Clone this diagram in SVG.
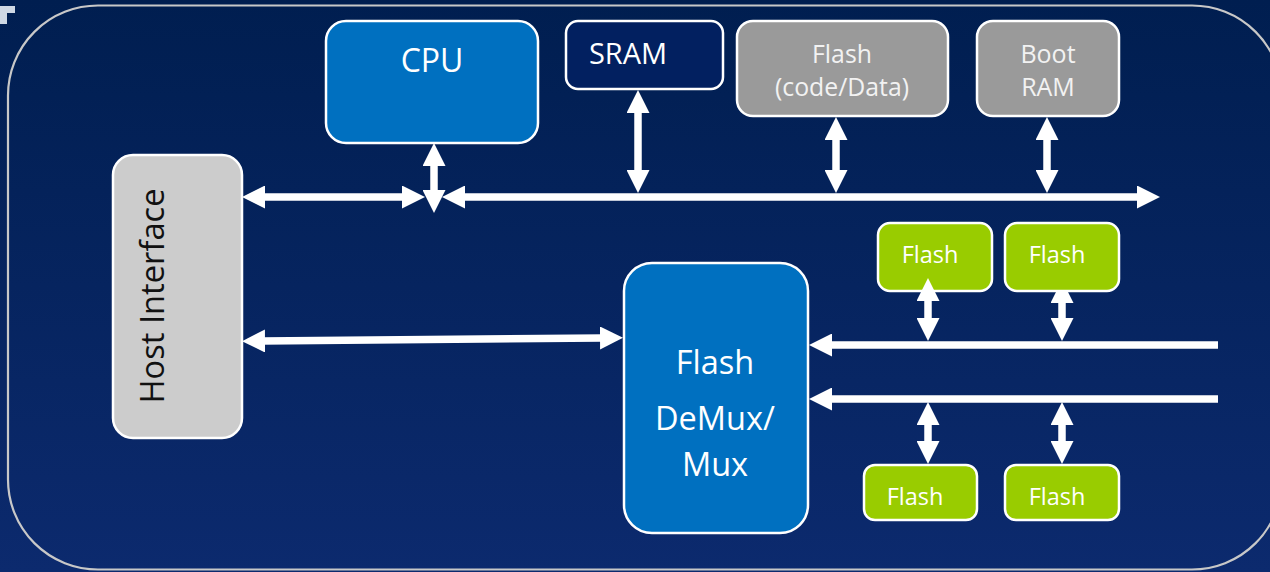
<svg xmlns="http://www.w3.org/2000/svg" width="1270" height="572" viewBox="0 0 1270 572">
  <defs>
    <linearGradient id="bg" x1="0" y1="0" x2="0" y2="1">
      <stop offset="0" stop-color="#001e50"/>
      <stop offset="1" stop-color="#0c2a6e"/>
    </linearGradient>
    <marker id="head" viewBox="0 0 23 23" markerUnits="userSpaceOnUse" markerWidth="23" markerHeight="23" refX="3" refY="11.5" orient="auto-start-reverse">
      <path d="M0,0 L23,11.5 L0,23 Z" fill="#ffffff"/>
    </marker>
    <clipPath id="below-flash-b">
      <rect x="1040" y="292" width="50" height="60"/>
    </clipPath>
    <style>
      .box { stroke: #ffffff; stroke-width: 2.5; }
      .blue { fill: #0070c0; }
      .navy { fill: #022060; }
      .gray { fill: #9a9a9a; }
      .light { fill: #cccccc; }
      .green { fill: #99cc00; }
      .t { font-family: "Open Sans", "Noto Sans", sans-serif; text-anchor: middle; fill: #ffffff; }
      .tg { fill: #f2f2f2; }
      .wire { stroke: #ffffff; stroke-width: 7.5; fill: none; }
    </style>
  </defs>

  <!-- backdrop -->
  <rect x="0" y="0" width="1270" height="572" fill="url(#bg)"/>
  <path d="M0,6 H15 V13 H7 V24 H0 Z" fill="#e6ecf4" opacity="0.9"/>
  <rect x="8" y="5.5" width="1274" height="564" rx="90" ry="90" fill="none" stroke="#c8c8c8" stroke-width="2.2"/>

  <!-- blocks -->
  <g id="cpu">
    <rect class="box blue" x="326" y="21" width="212" height="122" rx="20"/>
    <text class="t" x="432" y="72" font-size="32">CPU</text>
  </g>
  <g id="sram">
    <rect class="box navy" x="566" y="21" width="157" height="68" rx="12"/>
    <text class="t" x="628" y="64" font-size="29">SRAM</text>
  </g>
  <g id="flash-code">
    <rect class="box gray" x="737" y="21" width="211" height="95" rx="16"/>
    <text class="t tg" x="842" y="63" font-size="24.8">Flash</text>
    <text class="t tg" x="842" y="96" font-size="24.8">(code/Data)</text>
  </g>
  <g id="boot-ram">
    <rect class="box gray" x="977" y="21" width="142" height="95" rx="16"/>
    <text class="t tg" x="1048" y="63" font-size="25">Boot</text>
    <text class="t tg" x="1048" y="96" font-size="25">RAM</text>
  </g>
  <g id="host-interface">
    <rect class="box light" x="113" y="155" width="129" height="283" rx="20"/>
    <text class="t" transform="translate(164,296) rotate(-90)" font-size="32.7" style="fill:#111111">Host Interface</text>
  </g>
  <g id="flash-mux">
    <rect class="box blue" x="624" y="263" width="184" height="270" rx="28"/>
    <text class="t" x="715" y="374" font-size="32.5">Flash</text>
    <text class="t" x="715" y="430" font-size="32.5">DeMux/</text>
    <text class="t" x="715" y="476" font-size="32.5">Mux</text>
  </g>
  <g id="flash-a">
    <rect class="box green" x="878" y="223" width="114" height="68" rx="12"/>
    <text class="t" x="930" y="263" font-size="23.5">Flash</text>
  </g>
  <g id="flash-b">
    <rect class="box green" x="1005" y="223" width="114" height="68" rx="12"/>
    <text class="t" x="1057" y="263" font-size="23.5">Flash</text>
  </g>
  <g id="flash-c">
    <rect class="box green" x="864" y="465" width="113" height="55" rx="11"/>
    <text class="t" x="915" y="505" font-size="23.5">Flash</text>
  </g>
  <g id="flash-d">
    <rect class="box green" x="1005" y="465" width="114" height="55" rx="11"/>
    <text class="t" x="1057" y="505" font-size="23.5">Flash</text>
  </g>

  <!-- buses and links -->
  <g id="connectors">
    <!-- system bus -->
    <line class="wire" x1="262" y1="197" x2="405" y2="197" marker-start="url(#head)" marker-end="url(#head)"/>
    <line class="wire" x1="462" y1="197" x2="1140" y2="197" marker-start="url(#head)" marker-end="url(#head)"/>
    <line class="wire" x1="434" y1="163" x2="434" y2="193" marker-start="url(#head)" marker-end="url(#head)"/>
    <line class="wire" x1="638" y1="110" x2="638" y2="173" marker-start="url(#head)" marker-end="url(#head)"/>
    <line class="wire" x1="836" y1="137" x2="836" y2="173" marker-start="url(#head)" marker-end="url(#head)"/>
    <line class="wire" x1="1047" y1="137" x2="1047" y2="173" marker-start="url(#head)" marker-end="url(#head)"/>
    <!-- host to mux -->
    <line class="wire" x1="262" y1="341" x2="603" y2="338" marker-start="url(#head)" marker-end="url(#head)"/>
    <!-- flash channels -->
    <line class="wire" x1="829" y1="345" x2="1218" y2="345" marker-start="url(#head)"/>
    <line class="wire" x1="829" y1="399" x2="1218" y2="399" marker-start="url(#head)"/>
    <line class="wire" x1="928" y1="298" x2="928" y2="321" marker-start="url(#head)" marker-end="url(#head)"/>
    <line class="wire" x1="1062" y1="300" x2="1062" y2="321" marker-start="url(#head)" marker-end="url(#head)" clip-path="url(#below-flash-b)"/>
    <line class="wire" x1="928" y1="422" x2="928" y2="444" marker-start="url(#head)" marker-end="url(#head)"/>
    <line class="wire" x1="1062" y1="422" x2="1062" y2="444" marker-start="url(#head)" marker-end="url(#head)"/>
  </g>
</svg>
